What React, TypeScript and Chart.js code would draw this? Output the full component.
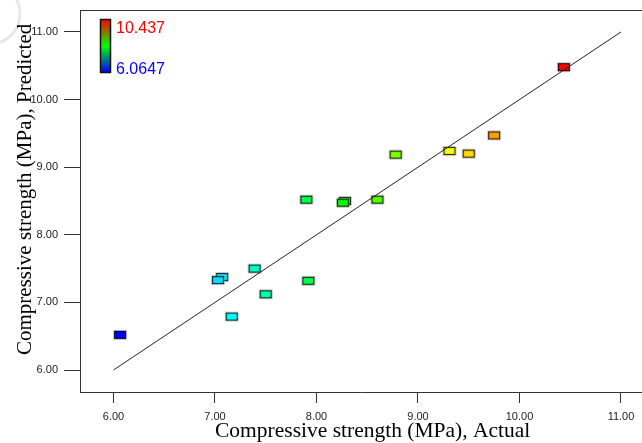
import React, { useEffect, useRef } from "react";
import { Chart, registerables } from "chart.js";

Chart.register(...registerables);

// ---- data ----
const actual = [7.07, 7.03, 6.065, 7.165, 7.39, 7.5, 7.9, 7.92, 8.28, 8.26, 8.6, 8.78, 9.31, 9.5, 9.75, 10.437];
const predicted = [7.375, 7.33, 6.52, 6.79, 7.5, 7.12, 8.52, 7.32, 8.5, 8.475, 8.52, 9.185, 9.24, 9.2, 9.47, 10.48];
const colorMin = 6.0647;
const colorMax = 10.437;
const colorMinLabel = "6.0647";
const colorMaxLabel = "10.437";
const xTicks = [6, 7, 8, 9, 10, 11];
const yTicks = [6, 7, 8, 9, 10, 11];
const fitLine = [6, 11];
const xTitle = "Compressive strength (MPa), Actual";
const yTitle = "Compressive strength (MPa), Predicted";

const SANS = "'Liberation Sans', Arial, sans-serif";
const SERIF = "'Liberation Serif', 'Times New Roman', serif";

function jet(v: number): [number, number, number] {
  let t = (v - colorMin) / (colorMax - colorMin);
  t = Math.max(0, Math.min(1, t));
  const stops: [number, number, number, number][] = [
    [0, 0, 0, 255],
    [0.25, 0, 255, 255],
    [0.5, 0, 255, 0],
    [0.75, 255, 255, 0],
    [1, 255, 0, 0],
  ];
  for (let i = 0; i < stops.length - 1; i++) {
    const a = stops[i];
    const b = stops[i + 1];
    if (t <= b[0]) {
      const f = (t - a[0]) / (b[0] - a[0]);
      return [
        Math.round(a[1] + (b[1] - a[1]) * f),
        Math.round(a[2] + (b[2] - a[2]) * f),
        Math.round(a[3] + (b[3] - a[3]) * f),
      ];
    }
  }
  return [255, 0, 0];
}

function makeMarker(v: number): HTMLCanvasElement {
  const c = document.createElement("canvas");
  c.width = 16;
  c.height = 12;
  const ctx = c.getContext("2d")!;
  const [r, g, b] = jet(v);
  ctx.fillStyle = "rgba(170,170,170,0.45)";
  ctx.fillRect(1, 1, 14, 10);
  ctx.fillStyle = `rgb(${r},${g},${b})`;
  ctx.fillRect(2, 2, 12, 8);
  ctx.strokeStyle = `rgb(${Math.round(r * 0.2)},${Math.round(g * 0.2)},${Math.round(b * 0.2)})`;
  ctx.lineWidth = 1.2;
  ctx.strokeRect(2.5, 2.5, 11, 7);
  return c;
}

const zeroPad = (s: any) => {
  s.paddingLeft = 0;
  s.paddingRight = 0;
  s.paddingTop = 0;
  s.paddingBottom = 0;
};

const decorPlugin = {
  id: "decor",
  beforeDraw(chart: any) {
    const ctx = chart.ctx;
    ctx.save();
    ctx.strokeStyle = "#e8e8e8";
    ctx.lineWidth = 3;
    ctx.beginPath();
    ctx.arc(-10, 14, 30, -Math.PI / 2, Math.PI / 2);
    ctx.stroke();
    ctx.restore();
  },
  afterDraw(chart: any) {
    const ctx = chart.ctx;
    const area = chart.chartArea;
    ctx.save();
    // top border
    ctx.strokeStyle = "#333";
    ctx.lineWidth = 1;
    ctx.beginPath();
    ctx.moveTo(area.left, area.top + 0.5);
    ctx.lineTo(area.right, area.top + 0.5);
    ctx.stroke();

    // color bar
    const bx = 101, by = 20, bw = 9, bh = 52;
    const grad = ctx.createLinearGradient(0, by, 0, by + bh);
    grad.addColorStop(0, "rgb(255,0,0)");
    grad.addColorStop(0.5, "rgb(0,255,0)");
    grad.addColorStop(1, "rgb(0,0,255)");
    ctx.fillStyle = grad;
    ctx.fillRect(bx, by, bw, bh);
    ctx.strokeStyle = "#111";
    ctx.lineWidth = 1.5;
    ctx.strokeRect(bx - 0.5, by - 0.5, bw + 1, bh + 1);

    ctx.font = `16px ${SANS}`;
    ctx.textAlign = "left";
    ctx.textBaseline = "alphabetic";
    ctx.fillStyle = "rgb(255,0,0)";
    ctx.fillText(colorMaxLabel, 116, 32.5);
    ctx.fillStyle = "rgb(0,0,255)";
    ctx.fillText(colorMinLabel, 116, 74);

    // axis titles
    ctx.fillStyle = "#000";
    ctx.font = `21.5px ${SERIF}`;
    ctx.textAlign = "left";
    ctx.fillText(xTitle, 215, 437);
    ctx.font = `21px ${SERIF}`;
    ctx.translate(31, 355);
    ctx.rotate(-Math.PI / 2);
    ctx.fillText(yTitle, 0, 0);
    ctx.restore();
  },
};

export default function App() {
  const ref = useRef<HTMLCanvasElement>(null);

  useEffect(() => {
    if (!ref.current) return;
    const points = actual.map((a, i) => ({ x: a, y: predicted[i] }));
    const markers = actual.map((a) => makeMarker(a));
    const chart = new Chart(ref.current, {
      type: "scatter",
      data: {
        datasets: [
          {
            type: "line",
            data: fitLine.map((v) => ({ x: v, y: v })),
            borderColor: "#222",
            borderWidth: 1,
            pointRadius: 0,
            fill: false,
          } as any,
          {
            data: points,
            pointStyle: markers as any,
            pointRadius: 6,
            pointHoverRadius: 6,
          },
        ],
      },
      options: {
        animation: false,
        responsive: false,
        maintainAspectRatio: false,
        layout: { autoPadding: false, padding: { top: 10, left: 0, right: 0, bottom: 0 } },
        plugins: { legend: { display: false }, tooltip: { enabled: false } },
        scales: {
          x: {
            type: "linear",
            position: "bottom",
            min: 5.67,
            max: 11.207,
            afterBuildTicks: (s: any) => {
              s.ticks = xTicks.map((v) => ({ value: v }));
            },
            afterFit: (s: any) => {
              s.height = 51;
              zeroPad(s);
            },
            ticks: {
              callback: (v: any) => Number(v).toFixed(2),
              font: { family: SANS, size: 11 },
              color: "#222",
              padding: 7,
              maxRotation: 0,
              autoSkip: false,
            },
            grid: {
              display: true,
              drawOnChartArea: false,
              drawTicks: true,
              tickLength: 11,
              color: "#333",
              tickColor: "#333",
            },
            border: { display: true, color: "#333", width: 1 },
          },
          y: {
            type: "linear",
            min: 5.675,
            max: 11.325,
            afterBuildTicks: (s: any) => {
              s.ticks = yTicks.map((v) => ({ value: v }));
            },
            afterFit: (s: any) => {
              s.width = 80;
              zeroPad(s);
            },
            ticks: {
              callback: (v: any) => Number(v).toFixed(2),
              font: { family: SANS, size: 11 },
              color: "#222",
              padding: 6,
              autoSkip: false,
            },
            grid: {
              display: true,
              drawOnChartArea: false,
              drawTicks: true,
              tickLength: 16,
              color: "#333",
              tickColor: "#333",
            },
            border: { display: true, color: "#333", width: 1 },
          },
        },
      },
      plugins: [decorPlugin],
    });
    return () => chart.destroy();
  }, []);

  return (
    <div style={{ position: "absolute", left: 0, top: 0, width: 642, height: 443, background: "#fff" }}>
      <canvas ref={ref} width={642} height={443} />
    </div>
  );
}
